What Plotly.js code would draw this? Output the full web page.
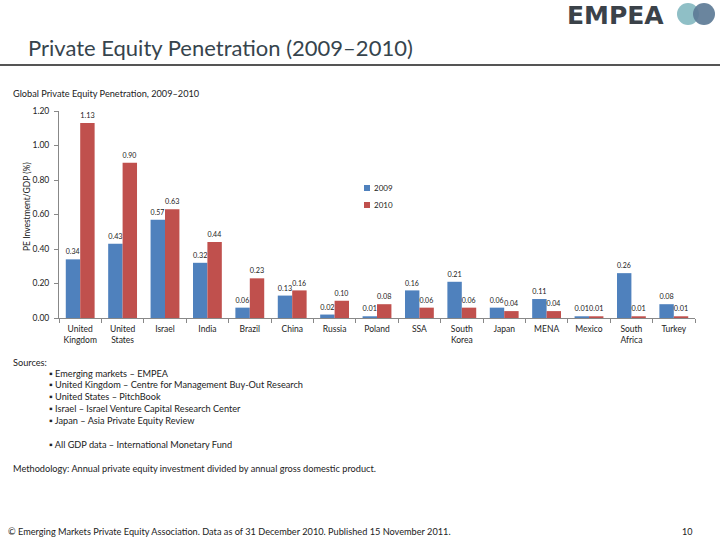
<!DOCTYPE html>
<html>
<head>
<meta charset="utf-8">
<script src="https://cdn.plot.ly/plotly-3.0.1.min.js"></script>
<style>
html,body{margin:0;padding:0;background:#fff;}
#chart{width:720px;height:540px;}
</style>
</head>
<body>
<div id="chart"></div>
<script>
const categories = ["United<br>Kingdom","United<br>States","Israel","India","Brazil","China","Russia","Poland","SSA","South<br>Korea","Japan","MENA","Mexico","South<br>Africa","Turkey"];
const values2009 = [0.34,0.43,0.57,0.32,0.06,0.13,0.02,0.01,0.16,0.21,0.06,0.11,0.01,0.26,0.08];
const values2010 = [1.13,0.90,0.63,0.44,0.23,0.16,0.10,0.08,0.06,0.06,0.04,0.04,0.01,0.01,0.01];
const seriesNames = ["2009","2010"];
const yTicks = [0,0.2,0.4,0.6,0.8,1.0,1.2];

const W=720,H=540;
const L=59,R=695,T=111,B=318;
const FONT="Lato, 'Open Sans', sans-serif";
function px(x){return (x-L)/(R-L);}
function py(y){return (B-y)/(B-T);}

const blue="#4F81BD", red="#C0504D";

const traces=[
 {type:"bar",name:seriesNames[0],x:categories,y:values2009,marker:{color:blue},
  text:values2009.map(v=>v.toFixed(2)),textposition:"outside",cliponaxis:false,
  textfont:{size:7.5,color:"#222",family:FONT},hoverinfo:"x+y"},
 {type:"bar",name:seriesNames[1],x:categories,y:values2010,marker:{color:red},
  text:values2010.map(v=>v.toFixed(2)),textposition:"outside",cliponaxis:false,
  textfont:{size:7.5,color:"#222",family:FONT},hoverinfo:"x+y"}
];

const ann=[];
const shapes=[];
function txt(x,y,t,size,opts){
  ann.push(Object.assign({xref:"paper",yref:"paper",x:px(x),y:py(y),text:t,showarrow:false,
    xanchor:"left",yanchor:"middle",font:{family:FONT,size:size,color:"#222"}},opts||{}));
}
// header
txt(26,48,"Private Equity Penetration (2009–2010)",22,{font:{family:FONT,size:22,color:"#36444d"}});
shapes.push({type:"line",xref:"paper",yref:"paper",x0:px(0),x1:px(720),y0:py(65),y1:py(65),line:{color:"#555",width:2}});
// logo
txt(565,16,"<b>EMPEA</b>",25,{font:{family:"'DejaVu Sans', 'Liberation Sans', sans-serif",size:25,color:"#3b4249"}});
shapes.push({type:"circle",xref:"paper",yref:"paper",x0:px(677),x1:px(699),y0:py(3),y1:py(25),fillcolor:"#8fbfc6",line:{width:0}});
shapes.push({type:"circle",xref:"paper",yref:"paper",x0:px(693),x1:px(715),y0:py(3),y1:py(25),fillcolor:"#5d7b96",line:{width:0},opacity:0.92});
// chart title
txt(11,93,"Global Private Equity Penetration, 2009–2010",9.2);
// y axis title
ann.push({xref:"paper",yref:"paper",x:px(27),y:py(207),text:"PE Investment/GDP (%)",showarrow:false,textangle:-90,
  xanchor:"center",yanchor:"middle",font:{family:FONT,size:8.5,color:"#222"}});
// legend
const legY=[188,205];
[blue,red].forEach((c,i)=>{
  shapes.push({type:"rect",xref:"paper",yref:"paper",x0:px(364),x1:px(370),y0:py(legY[i]-3),y1:py(legY[i]+3),fillcolor:c,line:{width:0}});
  txt(372,legY[i],seriesNames[i],8);
});
// sources
const src=["▪ Emerging markets – EMPEA","▪ United Kingdom – Centre for Management Buy-Out Research","▪ United States – PitchBook","▪ Israel – Israel Venture Capital Research Center","▪ Japan – Asia Private Equity Review"];
txt(11,362,"Sources:",9.2);
const srcY=[373,384,396,408,420];
src.forEach((s,i)=>txt(47,srcY[i],s,9.2));
txt(47,444,"▪ All GDP data – International Monetary Fund",9.2);
txt(11,468,"Methodology: Annual private equity investment divided by annual gross domestic product.",9.2);
txt(6,531,"© Emerging Markets Private Equity Association. Data as of 31 December 2010. Published 15 November 2011.",9.2);
txt(680,531,"10",9);

const layout={
  width:W,height:H,
  margin:{l:L,r:W-R,t:T,b:H-B,pad:0},
  paper_bgcolor:"#fff",plot_bgcolor:"#fff",
  showlegend:false,
  barmode:"group",bargap:0.32,bargroupgap:0,
  font:{family:FONT,size:8.5,color:"#222"},
  xaxis:{type:"category",showline:true,linecolor:"#888",linewidth:1,ticks:"outside",tickson:"boundaries",
    ticklen:4,tickcolor:"#888",showgrid:false,tickfont:{size:8.5,color:"#222",family:FONT},ticklabelstandoff:3,
    automargin:false,fixedrange:true},
  yaxis:{range:[0,1.2],tickvals:yTicks,ticktext:yTicks.map(v=>v.toFixed(2)),showline:true,linecolor:"#888",linewidth:1,
    ticks:"outside",ticklen:4,tickcolor:"#888",showgrid:false,zeroline:false,tickfont:{size:8.5,color:"#222",family:FONT},
    ticklabelstandoff:3,automargin:false,fixedrange:true},
  annotations:ann,shapes:shapes
};
Plotly.newPlot("chart",traces,layout,{displayModeBar:false,staticPlot:true});
</script>
</body>
</html>
